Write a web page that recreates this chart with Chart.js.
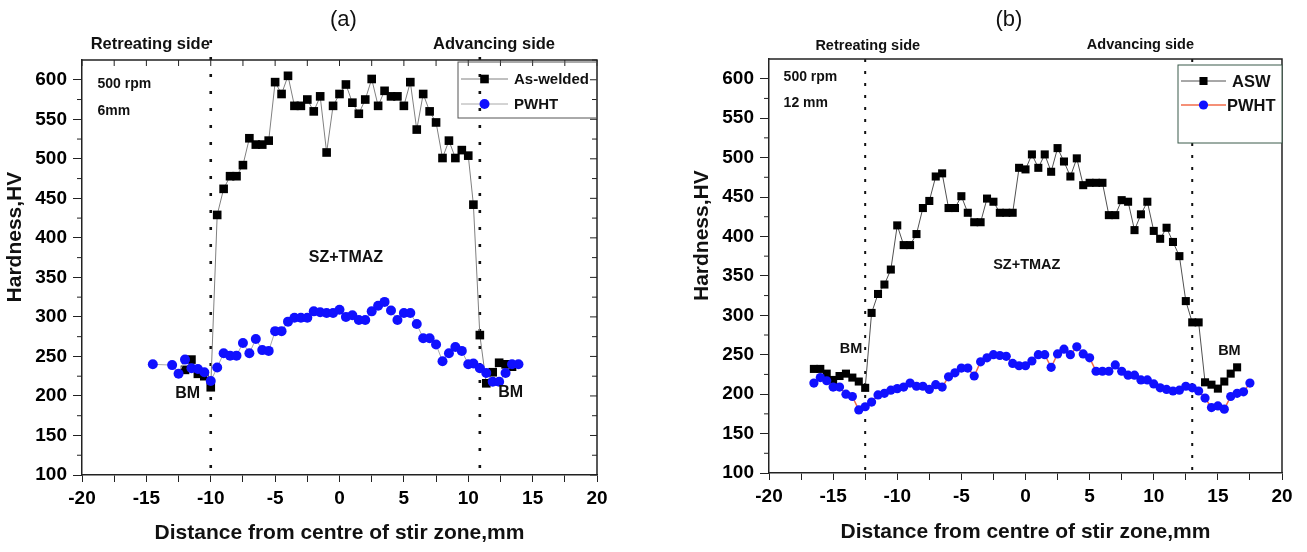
<!DOCTYPE html>
<html>
<head>
<meta charset="utf-8">
<script src="https://cdn.jsdelivr.net/npm/chart.js@4.4.1/dist/chart.umd.min.js"></script>
<style>
  html, body { margin: 0; padding: 0; background: #fff; }
  #wrap { position: relative; width: 1307px; height: 552px; overflow: hidden; }
  .panel { position: absolute; top: 0; height: 552px; }
  #panelA { left: 0; width: 650px; }
  #panelB { left: 650px; width: 657px; }
</style>
</head>
<body>
<div id="wrap">
  <div class="panel" id="panelA"><canvas id="chartA"></canvas></div>
  <div class="panel" id="panelB"><canvas id="chartB"></canvas></div>
</div>
<script>
// tick labels shared by both panels
const xTickLabels = [-20, -15, -10, -5, 0, 5, 10, 15, 20];
const yTickLabels = [100, 150, 200, 250, 300, 350, 400, 450, 500, 550, 600];

// (a) 500 rpm, 6mm
const distA_weld = [-12, -11.5, -11, -10.5, -10, -9.5, -9, -8.5, -8, -7.5, -7, -6.5, -6, -5.5, -5, -4.5, -4, -3.5, -3, -2.5, -2, -1.5, -1, -0.5, 0, 0.5, 1, 1.5, 2, 2.5, 3, 3.5, 4, 4.5, 5, 5.5, 6, 6.5, 7, 7.5, 8, 8.5, 9, 9.5, 10, 10.4, 10.9, 11.4, 11.9, 12.4, 12.9, 13.4];
const hardA_weld = [233, 246, 228, 225, 211, 429, 462, 478, 478, 492, 526, 518, 518, 523, 597, 582, 605, 567, 567, 575, 560, 579, 508, 567, 582, 594, 571, 557, 575, 601, 567, 586, 579, 579, 567, 597, 537, 582, 560, 546, 501, 523, 501, 511, 504, 442, 277, 216, 230, 242, 240, 237];
const distA_pwht = [-14.5, -13, -12.5, -12, -11.5, -11, -10.5, -10, -9.5, -9, -8.5, -8, -7.5, -7, -6.5, -6, -5.5, -5, -4.5, -4, -3.5, -3, -2.5, -2, -1.5, -1, -0.5, 0, 0.5, 1, 1.5, 2, 2.5, 3, 3.5, 4, 4.5, 5, 5.5, 6, 6.5, 7, 7.5, 8, 8.5, 9, 9.5, 10, 10.4, 10.9, 11.4, 11.9, 12.4, 12.9, 13.4, 13.9];
const hardA_pwht = [240, 239, 228, 246, 235, 234, 230, 219, 236, 254, 251, 251, 267, 254, 272, 258, 257, 282, 282, 294, 299, 299, 299, 307, 306, 305, 305, 309, 300, 302, 296, 296, 307, 314, 319, 308, 296, 305, 305, 291, 273, 273, 265, 244, 254, 262, 257, 240, 241, 235, 229, 218, 218, 229, 240, 240];
const zoneEdgesA = [-10, 10.9];

// (b) 500 rpm, 12 mm
const distB_asw = [-16.5, -16, -15.5, -15, -14.5, -14, -13.5, -13, -12.5, -12, -11.5, -11, -10.5, -10, -9.5, -9, -8.5, -8, -7.5, -7, -6.5, -6, -5.5, -5, -4.5, -4, -3.5, -3, -2.5, -2, -1.5, -1, -0.5, 0, 0.5, 1, 1.5, 2, 2.5, 3, 3.5, 4, 4.5, 5, 5.5, 6, 6.5, 7, 7.5, 8, 8.5, 9, 9.5, 10, 10.5, 11, 11.5, 12, 12.5, 13, 13.5, 14, 14.5, 15, 15.5, 16, 16.5];
const hardB_asw = [232, 232, 226, 218, 223, 226, 221, 216, 208, 303, 327, 339, 358, 414, 389, 389, 403, 436, 445, 476, 480, 436, 436, 451, 430, 418, 418, 448, 444, 430, 430, 430, 487, 485, 504, 487, 504, 482, 512, 495, 476, 499, 465, 468, 468, 468, 427, 427, 446, 444, 408, 428, 444, 407, 397, 411, 393, 375, 318, 291, 291, 215, 212, 207, 216, 226, 234];
const distB_pwht = [-16.5, -16, -15.5, -15, -14.5, -14, -13.5, -13, -12.5, -12, -11.5, -11, -10.5, -10, -9.5, -9, -8.5, -8, -7.5, -7, -6.5, -6, -5.5, -5, -4.5, -4, -3.5, -3, -2.5, -2, -1.5, -1, -0.5, 0, 0.5, 1, 1.5, 2, 2.5, 3, 3.5, 4, 4.5, 5, 5.5, 6, 6.5, 7, 7.5, 8, 8.5, 9, 9.5, 10, 10.5, 11, 11.5, 12, 12.5, 13, 13.5, 14, 14.5, 15, 15.5, 16, 16.5, 17, 17.5];
const hardB_pwht = [214, 221, 217, 209, 209, 200, 197, 180, 184, 190, 199, 201, 205, 207, 209, 214, 210, 210, 206, 212, 209, 222, 227, 233, 233, 223, 241, 246, 250, 249, 248, 239, 236, 236, 242, 250, 250, 234, 251, 257, 250, 260, 251, 246, 229, 229, 229, 237, 229, 224, 224, 218, 218, 213, 208, 206, 204, 205, 210, 208, 204, 195, 183, 185, 181, 197, 201, 203, 214];
const zoneEdgesB = [-12.5, 13];

const FONT = 'Arial, "Liberation Sans", sans-serif';
const BLUE = '#1010ff';

function pairs(xs, ys) {
  return xs.map((x, i) => ({ x: x, y: ys[i] }));
}

function marker(ctx, style, x, y, r, color) {
  ctx.fillStyle = color;
  ctx.beginPath();
  if (style === 'rect') {
    const s = r * Math.SQRT1_2;
    ctx.rect(x - s, y - s, 2 * s, 2 * s);
  } else {
    ctx.arc(x, y, r, 0, Math.PI * 2);
  }
  ctx.fill();
}

// dotted zone lines, frame, minor ticks, legend and text notes
const overlay = {
  id: 'overlay',
  beforeDatasetsDraw(chart, args, o) {
    const { ctx, chartArea: a, scales: { x } } = chart;
    ctx.save();
    ctx.strokeStyle = '#111';
    ctx.lineWidth = o.dotWidth;
    ctx.setLineDash(o.dotDash);
    o.edges.forEach(v => {
      const px = x.getPixelForValue(v);
      ctx.beginPath();
      ctx.moveTo(px, a.top - o.dotRise);
      ctx.lineTo(px, a.bottom);
      ctx.stroke();
    });
    ctx.restore();
  },
  afterDraw(chart, args, o) {
    const { ctx, chartArea: a, scales: { x, y } } = chart;
    ctx.save();
    // top and right frame
    ctx.strokeStyle = '#222';
    ctx.lineWidth = 1.5;
    ctx.beginPath();
    ctx.moveTo(a.left, a.top);
    ctx.lineTo(a.right, a.top);
    ctx.lineTo(a.right, a.bottom);
    ctx.stroke();

    // minor y ticks half way between labelled ones
    ctx.lineWidth = 1;
    ctx.beginPath();
    yTickLabels.slice(0, -1).forEach(v => {
      const py = y.getPixelForValue(v + 25);
      ctx.moveTo(a.left, py);
      ctx.lineTo(a.left - 5, py);
    });
    ctx.stroke();

    if (o.mirrorTicks) {
      ctx.beginPath();
      x.ticks.forEach(t => {
        const px = x.getPixelForValue(t.value);
        ctx.moveTo(px, a.top);
        ctx.lineTo(px, a.top + 6);
      });
      yTickLabels.forEach(v => {
        [v, v + 25].forEach(w => {
          const py = y.getPixelForValue(w);
          ctx.moveTo(a.right, py);
          ctx.lineTo(a.right - (w === v ? 7 : 5), py);
        });
      });
      ctx.stroke();
    }

    // y axis title
    ctx.save();
    ctx.translate(a.left - o.yTitleOffset, y.getPixelForValue(o.yTitleAt));
    ctx.rotate(-Math.PI / 2);
    ctx.font = 'bold 21px ' + FONT;
    ctx.fillStyle = '#111';
    ctx.textAlign = 'center';
    ctx.textBaseline = 'middle';
    ctx.fillText('Hardness,HV', 0, 0);
    ctx.restore();

    // legend
    const L = o.legend;
    const bx = a.right - L.width, by = a.top + L.top;
    if (L.fill) {
      ctx.fillStyle = '#fff';
      ctx.fillRect(bx, by, L.width, L.height);
    }
    ctx.strokeStyle = L.border;
    ctx.lineWidth = 1;
    ctx.strokeRect(bx, by, L.width, L.height);
    chart.data.datasets.forEach((ds, i) => {
      const ry = by + L.rows[i];
      ctx.strokeStyle = ds.borderColor;
      ctx.lineWidth = ds.borderWidth;
      ctx.beginPath();
      ctx.moveTo(bx + 3, ry);
      ctx.lineTo(bx + L.lineLen, ry);
      ctx.stroke();
      marker(ctx, ds.pointStyle, bx + L.lineLen / 2 + 1.5, ry, ds.pointRadius, ds.pointBackgroundColor);
      ctx.fillStyle = '#111';
      ctx.font = 'bold ' + L.fontSize + 'px ' + FONT;
      ctx.textBaseline = 'middle';
      ctx.textAlign = 'left';
      ctx.fillText(ds.label, bx + L.textX[i], ry + 1);
    });

    // notes
    o.notes.forEach(n => {
      ctx.font = (n.weight || 'bold') + ' ' + n.size + 'px ' + FONT;
      ctx.fillStyle = '#111';
      ctx.textBaseline = 'middle';
      ctx.textAlign = n.align || 'center';
      ctx.fillText(n.text, x.getPixelForValue(n.x), y.getPixelForValue(n.y));
    });
    ctx.restore();
  }
};

function makeChart(id, c) {
  return new Chart(document.getElementById(id), {
    type: 'line',
    data: { datasets: c.datasets },
    options: {
      responsive: true,
      maintainAspectRatio: false,
      animation: false,
      layout: { padding: c.padding },
      plugins: { legend: { display: false }, tooltip: { enabled: false }, overlay: c.overlay },
      scales: {
        x: {
          type: 'linear', min: -20, max: 20,
          afterFit: s => { s.height = c.xHeight; },
          ticks: {
            stepSize: 2.5, autoSkip: false, maxRotation: 0, padding: 5, color: '#000',
            font: { family: FONT, size: 19, weight: 'bold' },
            callback: v => xTickLabels.includes(v) ? String(v) : ''
          },
          grid: { drawOnChartArea: false, drawTicks: true, tickLength: 7, color: '#222', lineWidth: 1 },
          border: { display: true, color: '#222', width: 1.5 },
          title: {
            display: true, text: 'Distance from centre of stir zone,mm', color: '#111',
            font: { family: FONT, size: 21, weight: 'bold' },
            padding: { top: 0, bottom: c.xTitlePad }
          }
        },
        y: {
          type: 'linear', min: 100, max: 625,
          afterFit: s => { s.width = 82; },
          ticks: {
            stepSize: 50, includeBounds: false, autoSkip: false, padding: 6, color: '#000',
            font: { family: FONT, size: 19, weight: 'bold' },
            callback: v => yTickLabels.includes(v) ? String(v) : ''
          },
          grid: { drawOnChartArea: false, drawTicks: true, tickLength: 9, color: '#222', lineWidth: 1 },
          border: { display: true, color: '#222', width: 1.5 },
          title: { display: false }
        }
      }
    },
    plugins: [overlay]
  });
}

makeChart('chartA', {
  padding: { left: 0, right: 53, top: 60, bottom: 0 },
  xHeight: 77, xTitlePad: 6,
  datasets: [
    {
      label: 'As-welded', data: pairs(distA_weld, hardA_weld), order: 2,
      borderColor: '#808080', borderWidth: 1, pointStyle: 'rect', pointRadius: 6.1,
      pointBackgroundColor: '#000', pointBorderColor: '#000', pointBorderWidth: 0, tension: 0
    },
    {
      label: 'PWHT', data: pairs(distA_pwht, hardA_pwht), order: 1,
      borderColor: '#a8a8a8', borderWidth: 1, pointStyle: 'circle', pointRadius: 5,
      pointBackgroundColor: BLUE, pointBorderColor: BLUE, pointBorderWidth: 0, tension: 0
    }
  ],
  overlay: {
    edges: zoneEdgesA, dotWidth: 2.6, dotDash: [3, 14], dotRise: 20, mirrorTicks: true,
    yTitleOffset: 67, yTitleAt: 401,
    legend: { width: 139, height: 56, top: 2, rows: [17, 42], lineLen: 50, textX: [56, 56], fontSize: 15, border: '#555', fill: false },
    notes: [
      { text: '(a)', x: 0.3, y: 676, size: 22, weight: 'normal' },
      { text: 'Retreating side', x: -14.7, y: 645, size: 16.5 },
      { text: 'Advancing side', x: 12.0, y: 645, size: 16.5 },
      { text: '500 rpm', x: -18.8, y: 595, size: 14, align: 'left' },
      { text: '6mm', x: -18.8, y: 560, size: 14, align: 'left' },
      { text: 'SZ+TMAZ', x: 0.5, y: 375, size: 16 },
      { text: 'BM', x: -11.8, y: 203, size: 16 },
      { text: 'BM', x: 13.3, y: 204, size: 16 }
    ]
  }
});

makeChart('chartB', {
  padding: { left: 37, right: 25, top: 59, bottom: 0 },
  xHeight: 79, xTitlePad: 7,
  datasets: [
    {
      label: 'ASW', data: pairs(distB_asw, hardB_asw), order: 2,
      borderColor: '#505050', borderWidth: 1, pointStyle: 'rect', pointRadius: 5.7,
      pointBackgroundColor: '#000', pointBorderColor: '#000', pointBorderWidth: 0, tension: 0
    },
    {
      label: 'PWHT', data: pairs(distB_pwht, hardB_pwht), order: 1,
      borderColor: '#f26b4a', borderWidth: 1.5, pointStyle: 'circle', pointRadius: 4.6,
      pointBackgroundColor: BLUE, pointBorderColor: BLUE, pointBorderWidth: 0, tension: 0
    }
  ],
  overlay: {
    edges: zoneEdgesB, dotWidth: 2, dotDash: [3, 9], dotRise: 0, mirrorTicks: false,
    yTitleOffset: 67, yTitleAt: 401,
    legend: { width: 104, height: 78, top: 6, rows: [16, 40], lineLen: 48, textX: [54, 49], fontSize: 16.5, border: '#3a5a4a', fill: true },
    notes: [
      { text: '(b)', x: -1.3, y: 675, size: 22, weight: 'normal' },
      { text: 'Retreating side', x: -12.3, y: 642, size: 14.5 },
      { text: 'Advancing side', x: 8.96, y: 643, size: 14.5 },
      { text: '500 rpm', x: -18.86, y: 602, size: 14, align: 'left' },
      { text: '12 mm', x: -18.86, y: 569, size: 14, align: 'left' },
      { text: 'SZ+TMAZ', x: 0.1, y: 364, size: 14.5 },
      { text: 'BM', x: -13.6, y: 257, size: 14.5 },
      { text: 'BM', x: 15.9, y: 255, size: 14.5 }
    ]
  }
});
</script>
</body>
</html>
